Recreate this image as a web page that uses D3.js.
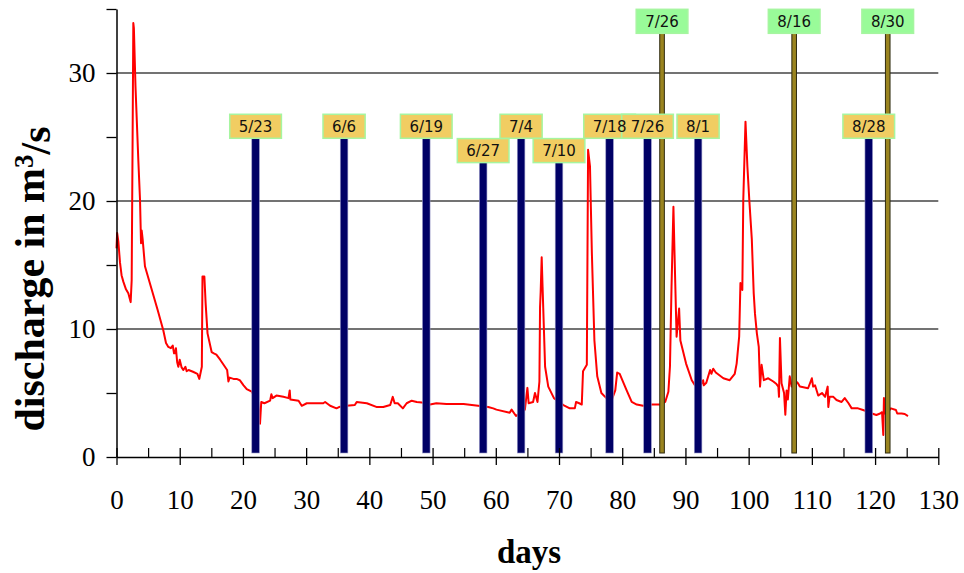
<!DOCTYPE html>
<html>
<head>
<meta charset="utf-8">
<script src="https://cdn.jsdelivr.net/npm/d3@7"></script>
<style>
  body { margin: 0; background: #fff; }
  svg { display: block; }
</style>
</head>
<body>
<div id="graph"></div>
<script>
// discharge record (day since May 1, m3/s)
const days = [
  0.0, 0.1, 0.3, 0.55, 0.8, 1.08, 1.5, 1.87, 2.24, 2.4, 2.55, 2.66, 2.75, 3.0, 3.45, 3.72, 3.88, 3.98, 4.14, 4.5,
  5.5, 6.5, 7.4, 7.83, 8.2, 8.6, 8.9, 9.1, 9.25, 9.4, 9.6, 9.78, 10.0, 10.3, 10.57, 10.9, 11.1, 11.4, 12.1, 12.8,
  13.1, 13.5, 13.6, 13.9, 14.1, 14.4, 15.05, 15.4, 15.8, 16.4, 17.5, 17.7, 17.9, 18.5, 19.0, 19.5, 20.1, 20.6, 21.4, 22.0,
  22.4, 22.7, 22.9, 23.4, 24.3, 24.5, 24.7, 25.3, 26.4, 27.2, 27.4, 27.5, 28.8, 29.3, 30.1, 32.7, 33.0, 33.8, 34.8, 35.2,
  36.4, 37.7, 38.0, 39.6, 41.2, 42.2, 43.3, 43.7, 44.0, 44.5, 45.3, 45.9, 46.7, 47.5, 48.3, 49.6, 50.6, 52.2, 54.9, 57.2,
  58.8, 59.6, 60.1, 62.2, 62.5, 63.2, 64.0, 64.6, 65.0, 65.2, 65.9, 66.2, 66.6, 66.9, 67.0, 67.1, 67.26, 67.4, 67.8, 68.3,
  69.2, 70.0, 70.7, 71.7, 72.5, 72.7, 73.2, 73.6, 73.8, 74.4, 74.6, 74.9, 75.2, 75.6, 76.05, 76.7, 77.5, 78.3, 78.9, 79.2,
  79.6, 80.7, 81.5, 82.3, 83.3, 84.7, 86.0, 86.8, 87.3, 87.55, 87.8, 88.1, 88.35, 88.6, 89.0, 89.2, 90.1, 91.0, 91.5, 92.5,
  92.8, 92.9, 93.3, 93.9, 94.1, 94.4, 94.8, 96.0, 97.0, 97.8, 98.1, 98.5, 98.7, 99.0, 99.15, 99.5, 99.8, 100.1, 100.5, 100.8,
  101.0, 101.3, 101.6, 101.8, 102.05, 102.4, 103.1, 103.9, 104.4, 104.7, 104.8, 104.95, 105.2, 105.6, 105.8, 106.0, 106.2, 106.5, 106.8, 107.3,
  107.8, 108.1, 109.4, 110.0, 110.2, 110.5, 111.0, 111.6, 112.1, 112.5, 112.6, 112.8, 113.4, 113.9, 114.7, 115.2, 115.8, 116.3, 117.3, 118.1,
  118.8, 119.5, 120.2, 120.8, 121.1, 121.3, 121.4, 121.5, 121.95, 122.5, 123.3, 123.5, 124.2, 124.7, 125.2
];
const discharge = [
  16.3, 17.5, 16.8, 15.2, 14.2, 13.7, 13.1, 12.8, 12.1, 13.8, 25.0, 33.9, 33.5, 29.0, 23.2, 20.1, 16.7, 17.7, 17.0, 14.9,
  13.2, 11.5, 9.9, 8.9, 8.6, 8.5, 8.7, 8.1, 8.1, 8.5, 7.4, 7.05, 7.6, 7.0, 6.8, 7.05, 6.7, 6.8, 6.66, 6.5,
  6.1, 7.05, 14.1, 14.1, 12.0, 9.66, 8.2, 8.1, 8.0, 7.6, 6.8, 5.9, 6.2, 6.1, 6.1, 6.0, 5.6, 5.3, 5.1, 4.6,
  4.3, 2.6, 4.3, 4.2, 4.4, 4.9, 4.6, 4.8, 4.7, 4.6, 5.2, 4.5, 4.4, 4.0, 4.2, 4.2, 4.3, 4.0, 3.8, 3.9,
  4.0, 4.06, 4.3, 4.2, 3.9, 3.9, 4.06, 4.7, 4.2, 4.2, 3.8, 4.2, 4.4, 4.3, 4.25, 4.1, 4.2, 4.14, 4.14, 4.0,
  3.9, 3.8, 3.7, 3.46, 3.7, 3.2, 3.5, 3.7, 5.4, 4.2, 4.3, 5.0, 4.3, 5.9, 11.7, 12.9, 15.6, 13.3, 7.05, 5.5,
  4.6, 4.3, 4.06, 3.8, 3.8, 4.3, 4.2, 4.1, 6.7, 7.2, 24.0, 22.7, 15.9, 9.1, 6.3, 5.0, 4.6, 4.4, 5.2, 6.6,
  6.5, 5.2, 4.3, 4.1, 4.0, 4.1, 4.1, 4.3, 5.1, 7.05, 13.3, 19.55, 14.35, 9.4, 11.6, 9.1, 7.3, 6.0, 5.6, 5.7,
  6.0, 5.6, 5.8, 6.8, 6.5, 6.9, 6.6, 6.15, 6.0, 6.5, 7.3, 9.4, 13.6, 13.05, 20.1, 26.2, 22.7, 20.1, 17.0, 12.8,
  11.2, 9.66, 8.6, 5.5, 7.2, 6.0, 6.15, 5.9, 5.7, 5.5, 4.7, 9.3, 5.76, 5.0, 3.3, 5.2, 4.5, 6.3, 5.5, 6.0,
  5.76, 5.5, 5.37, 6.15, 5.5, 5.6, 4.8, 5.0, 4.7, 5.5, 3.9, 4.7, 4.7, 4.45, 4.3, 4.6, 4.2, 3.8, 3.8, 3.67,
  3.54, 3.4, 3.28, 3.4, 3.5, 1.72, 4.6, 3.4, 3.46, 3.8, 3.67, 3.4, 3.4, 3.36, 3.2
];

// sampling dates (navy) and gauge dates (olive)
const sampleDays = [22, 36, 49, 58, 64, 70, 78, 84, 92, 119];
const sampleLabels = ["5/23", "6/6", "6/19", "6/27", "7/4", "7/10", "7/18", "7/26", "8/1", "8/28"];
const sampleTops = [24.9, 24.9, 24.9, 23.0, 24.9, 23.0, 24.9, 24.9, 24.9, 24.9];
const gaugeDays = [86.3, 107.2, 122];
const gaugeLabels = ["7/26", "8/16", "8/30"];
const gaugeTops = [33.1, 33.1, 33.1];

const xTicks = d3.range(0, 131, 10);
const xMinor = d3.range(5, 130, 10);
const yTicks = d3.range(0, 36, 5);
const yGrid = [10, 20, 30];

const width = 964, height = 573;
const serif = "'Liberation Serif', 'Times New Roman', serif";

let svg = d3.select("#graph")
    .append("svg")
    .attr("width", width)
    .attr("height", height)
    .style("background", "#fff");

let x = d3.scaleLinear().domain([0, 130]).range([116.5, 938.3]);
let y = d3.scaleLinear().domain([0, 35]).range([457, 9]);

// grid
svg.append("g").selectAll("line")
    .data(yGrid)
    .enter()
    .append("line")
    .attr("x1", x(0))
    .attr("x2", x(130))
    .attr("y1", function(d) { return y(d) })
    .attr("y2", function(d) { return y(d) })
    .attr("stroke", "#444")
    .attr("stroke-width", 1.4);

// discharge line
let series = days.map(function(d, i) { return [d, discharge[i]] });
svg.append("path")
    .datum(series)
    .attr("fill", "none")
    .attr("stroke", "#ff0000")
    .attr("stroke-width", 2)
    .attr("stroke-linejoin", "round")
    .attr("d", d3.line().x(function(d) { return x(d[0]) }).y(function(d) { return y(d[1]) }));

// bars
let barBottom = y(0) - 4;
svg.append("g").selectAll("rect")
    .data(sampleDays)
    .enter()
    .append("rect")
    .attr("x", function(d) { return x(d) - 3.8 })
    .attr("y", function(d, i) { return y(sampleTops[i]) })
    .attr("width", 7.6)
    .attr("height", function(d, i) { return barBottom - y(sampleTops[i]) })
    .attr("fill", "#000066")
    .attr("stroke", "#9a9ac8")
    .attr("stroke-width", 0.6);

svg.append("g").selectAll("rect")
    .data(gaugeDays)
    .enter()
    .append("rect")
    .attr("x", function(d) { return x(d) - 2.3 })
    .attr("y", function(d, i) { return y(gaugeTops[i]) })
    .attr("width", 4.6)
    .attr("height", function(d, i) { return barBottom - y(gaugeTops[i]) })
    .attr("fill", "#9a8420")
    .attr("stroke", "#2e2a10")
    .attr("stroke-width", 1);

// date labels sitting on the bars
function addLabels(dayList, labels, tops, fill) {
    let g = svg.append("g");
    dayList.forEach(function(d, i) {
        let t = g.append("text")
            .attr("x", x(d))
            .attr("y", y(tops[i]) - 12)
            .attr("dy", "0.36em")
            .style("text-anchor", "middle")
            .style("font-family", "'DejaVu Sans', sans-serif")
            .style("font-size", "15px")
            .style("fill", "#111")
            .text(labels[i]);
        let w = t.node().getComputedTextLength() + 18;
        g.insert("rect", "text")
            .attr("x", x(d) - w / 2)
            .attr("y", y(tops[i]) - 24)
            .attr("width", w)
            .attr("height", 24)
            .attr("fill", fill)
            .attr("stroke", "#a6f5a0")
            .attr("stroke-width", 1.5);
    });
}
addLabels(sampleDays, sampleLabels, sampleTops, "#f1cd62");
addLabels(gaugeDays, gaugeLabels, gaugeTops, "#99fb99");

// x axis
let xAxis = svg.append("g")
    .attr("transform", "translate(0," + y(0) + ")")
    .call(d3.axisBottom(x).tickValues(xTicks).tickSize(8).tickSizeOuter(0));
xAxis.selectAll(".tick line").attr("y1", -9).attr("stroke", "#000").attr("stroke-width", 1.3);
xAxis.select(".domain").attr("stroke-width", 1.5);
xAxis.selectAll(".tick text")
    .attr("y", 33)
    .style("font-family", serif)
    .style("font-size", "27px")
    .style("fill", "#000");

let xMinorAxis = svg.append("g")
    .attr("transform", "translate(0," + y(0) + ")")
    .call(d3.axisBottom(x).tickValues(xMinor).tickSize(-9).tickFormat(""));
xMinorAxis.select(".domain").remove();
xMinorAxis.selectAll(".tick line").attr("stroke-width", 1.2);

// y axis
let yAxis = svg.append("g")
    .attr("transform", "translate(" + x(0) + ",0)")
    .call(d3.axisLeft(y).tickValues(yTicks).tickSize(10).tickSizeOuter(0)
        .tickFormat(function(d) { return (d % 10 === 0 && d < 35) ? d : "" }));
yAxis.select(".domain").attr("stroke-width", 1.5);
yAxis.selectAll(".tick line").attr("stroke-width", 1.3);
yAxis.selectAll(".tick text")
    .attr("x", -21)
    .style("font-family", serif)
    .style("font-size", "27px")
    .style("fill", "#000");

// axis titles
svg.append("text")
    .attr("x", 529)
    .attr("y", 563)
    .style("text-anchor", "middle")
    .style("font-family", serif)
    .style("font-weight", "bold")
    .style("font-size", "33px")
    .text("days");

let yTitle = svg.append("text")
    .attr("transform", "translate(44, 279) rotate(-90)")
    .style("text-anchor", "middle")
    .style("font-family", serif)
    .style("font-weight", "bold")
    .style("font-size", "42px");
yTitle.append("tspan").text("discharge in m");
yTitle.append("tspan").attr("dy", "-0.42em").style("font-size", "27px").text("3");
yTitle.append("tspan").attr("dy", "0.42em").text("/s");
</script>
</body>
</html>
